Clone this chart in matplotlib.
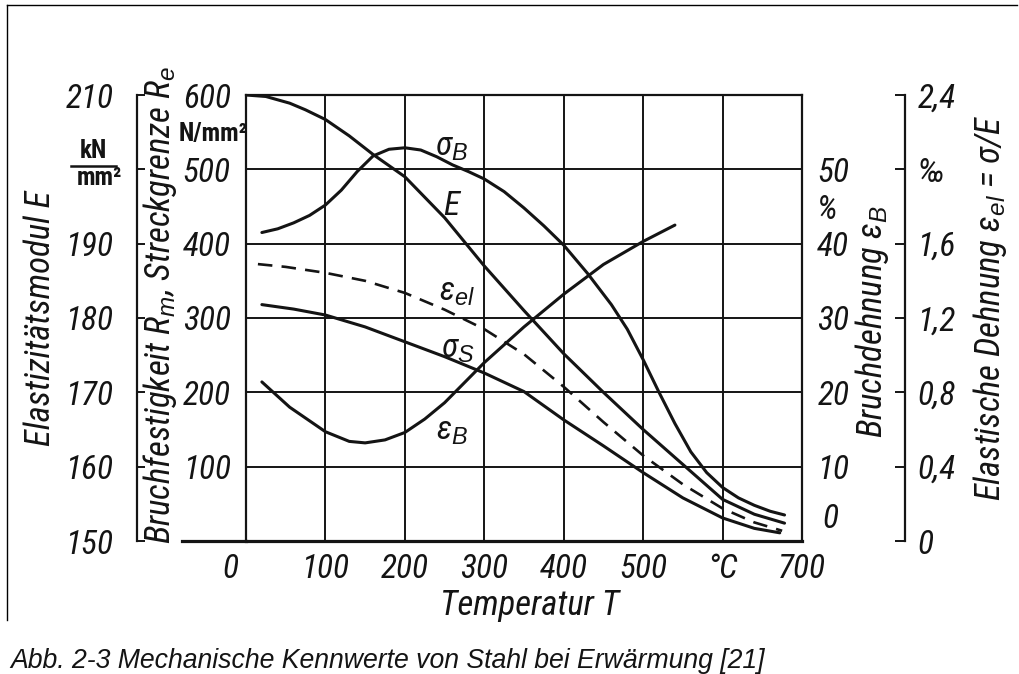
import matplotlib
matplotlib.use('Agg')
import matplotlib.pyplot as plt
from matplotlib.transforms import ScaledTranslation
from matplotlib.lines import Line2D

# ---------------- data ----------------
x_ticks = [0, 100, 200, 300, 400, 500, 600, 700]
x_ticklabels = ['0', '100', '200', '300', '400', '500', '°C', '700']

rm_ticks = [100, 200, 300, 400, 500, 600]
rm_ticklabels = ['100', '200', '300', '400', '500', '600']

e_ticks = [150, 160, 170, 180, 190, 200, 210]
e_ticklabels = ['150', '160', '170', '180', '190', '', '210']

eb_ticks = [0, 10, 20, 30, 40, 45, 50]
eb_ticklabels = ['0', '10', '20', '30', '40', '%', '50']

eel_ticks = [0, 0.4, 0.8, 1.2, 1.6, 2.0, 2.4]
eel_ticklabels = ['0', '0,4', '0,8', '1,2', '1,6', '‰', '2,4']

# Bruchfestigkeit sigma_B  (N/mm^2)
T_sigB = [20, 40, 60, 80, 100, 120, 140, 160, 180, 200, 220, 240, 260, 280, 300,
          325, 350, 375, 400, 430, 460, 480, 500, 520, 540, 560, 580, 600, 620,
          640, 660, 678]
sigB = [415, 420, 428, 438, 452, 472, 497, 518, 527, 529, 526, 517, 506, 497, 487,
        470, 448, 424, 398, 360, 318, 285, 244, 200, 158, 120, 92, 72, 58,
        48, 40, 35]

# Streckgrenze sigma_S (N/mm^2)
T_sigS = [20, 60, 100, 150, 200, 250, 300, 350, 400, 450, 500, 550, 600, 640, 672]
sigS = [318, 312, 304, 288, 268, 248, 226, 201, 163, 128, 92, 58, 31, 17, 11]

# Elastizitaetsmodul E (kN/mm^2)
T_E = [0, 25, 55, 75, 100, 130, 160, 200, 250, 300, 350, 400, 450, 500, 550,
       600, 640, 678]
E = [210, 209.8, 208.9, 208.0, 206.7, 204.5, 202.0, 199.0, 193.5, 187.0, 181.0,
     175.2, 170.0, 165.0, 160.3, 155.6, 153.6, 152.4]

# Bruchdehnung eps_B (%)
T_epsB = [20, 55, 100, 130, 150, 175, 200, 225, 250, 275, 300, 350, 400, 450,
          500, 540]
epsB = [21.4, 18.0, 14.7, 13.4, 13.2, 13.6, 14.6, 16.4, 18.6, 21.3, 24.0, 28.8,
        33.2, 37.2, 40.3, 42.5]

# Elastische Dehnung eps_el (permille)
T_epsel = [15, 50, 100, 150, 200, 250, 300, 350, 400, 450, 500, 550, 600, 640, 675]
epsel = [1.49, 1.475, 1.443, 1.40, 1.335, 1.245, 1.14, 1.005, 0.83, 0.64, 0.46,
         0.305, 0.175, 0.10, 0.055]

# ---------------- style ----------------
W, H, DPI = 1019, 674, 100
INK = '#141414'
FAM = ['Liberation Sans Narrow', 'Roboto Condensed', 'Open Sans Condensed',
       'Liberation Sans', 'DejaVu Sans']
plt.rcParams['font.family'] = FAM
plt.rcParams['font.style'] = 'italic'
plt.rcParams['mathtext.fontset'] = 'custom'
plt.rcParams['mathtext.rm'] = 'Liberation Sans:italic'
plt.rcParams['mathtext.it'] = 'Liberation Sans:italic'
plt.rcParams['mathtext.sf'] = 'Liberation Sans:italic'
plt.rcParams['mathtext.bf'] = 'Liberation Sans:italic:bold'
plt.rcParams['text.color'] = INK
TICK_FS = 24
CURVE_FS = 24
TITLE_MAX = 25


def fx(x):
    return x / W


def fy(y):
    return 1 - y / H


fig = plt.figure(figsize=(W / DPI, H / DPI), dpi=DPI)
fig.patch.set_facecolor('white')

L, R, T, B = 246, 802, 95, 541
ax = fig.add_axes([fx(L), fy(B), (R - L) / W, (B - T) / H])
ax.set_xlim(0, 700)
ax.set_ylim(0, 600)
ax.set_xticks(x_ticks)
ax.set_xticklabels(x_ticklabels, fontsize=TICK_FS)
ax.set_yticks(rm_ticks)
ax.set_yticklabels(rm_ticklabels, fontsize=TICK_FS)
ax.tick_params(axis='x', length=0, pad=9, colors=INK)
ax.tick_params(axis='y', length=0, pad=11, colors=INK)
ax.grid(True, color=INK, lw=1.4)
ax.set_axisbelow(True)
for s in ax.spines.values():
    s.set_color(INK)
    s.set_linewidth(1.6)
ax.spines['bottom'].set_linewidth(2.3)
ax.axhline(0, xmin=-0.115, xmax=0, color=INK, lw=2.3, clip_on=False)

# shift "0" on temperature axis a bit left
lab0 = ax.get_xticklabels()[0]
lab0.set_transform(lab0.get_transform() + ScaledTranslation(-0.16, 0, fig.dpi_scale_trans))

# E axis (left, offset)
axE = ax.twinx()
axE.set_ylim(150, 210)
axE.yaxis.set_ticks_position('left')
axE.yaxis.set_label_position('left')
for k, s in axE.spines.items():
    s.set_visible(k == 'left')
axE.spines['left'].set_position(('axes', (137 - L) / (R - L)))
axE.spines['left'].set_color(INK)
axE.spines['left'].set_linewidth(1.6)
axE.set_yticks(e_ticks)
axE.set_yticklabels(e_ticklabels, fontsize=TICK_FS)
axE.tick_params(axis='y', direction='in', length=6, width=1.4, pad=17, colors=INK)

# eps_B axis (right, on frame)
axB = ax.twinx()
axB.set_ylim(0, 60)
for s in axB.spines.values():
    s.set_visible(False)
axB.set_yticks(eb_ticks)
axB.set_yticklabels(eb_ticklabels, fontsize=TICK_FS)
axB.tick_params(axis='y', length=0, pad=11, colors=INK)
lb0 = axB.get_yticklabels()[0]
lb0.set_transform(lb0.get_transform() + ScaledTranslation(0.05, 0.25, fig.dpi_scale_trans))

# eps_el axis (right, offset)
axEl = ax.twinx()
axEl.set_ylim(0, 2.4)
for k, s in axEl.spines.items():
    s.set_visible(k == 'right')
axEl.spines['right'].set_position(('axes', (905 - L) / (R - L)))
axEl.spines['right'].set_color(INK)
axEl.spines['right'].set_linewidth(1.6)
axEl.set_yticks(eel_ticks)
axEl.set_yticklabels(eel_ticklabels, fontsize=TICK_FS)
axEl.tick_params(axis='y', direction='in', length=7, width=1.4, pad=9, colors=INK)

# curves
LW = 2.2
ax.plot(T_sigB, sigB, color=INK, lw=LW, solid_capstyle='round')
ax.plot(T_sigS, sigS, color=INK, lw=LW, solid_capstyle='round')
axE.plot(T_E, E, color=INK, lw=LW, solid_capstyle='round')
axB.plot(T_epsB, epsB, color=INK, lw=LW, solid_capstyle='round')
axEl.plot(T_epsel, epsel, color=INK, lw=1.9, linestyle=(0, (5.5, 3.5)))

# curve labels (placed in T / Rm coordinates)
ax.text(259, 530, 'σ$_B$', fontsize=CURVE_FS, ha='center', va='center')
ax.text(259, 451, 'E', fontsize=CURVE_FS, ha='center', va='center')
ax.text(266, 335, 'ε$_{el}$', fontsize=CURVE_FS, ha='center', va='center')
ax.text(267, 258, 'σ$_S$', fontsize=CURVE_FS, ha='center', va='center')
ax.text(259, 148, 'ε$_B$', fontsize=CURVE_FS, ha='center', va='center')

# axis titles
t_E = fig.text(fx(40), fy(318), 'Elastizitätsmodul E', rotation=90,
               ha='center', va='center', fontsize=24)
t_Rm = fig.text(fx(160), fy(305), 'Bruchfestigkeit R$_m$, Streckgrenze R$_e$',
                rotation=90, ha='center', va='center', fontsize=24)
t_eB = fig.text(fx(872), fy(322), 'Bruchdehnung ε$_B$', rotation=90,
                ha='center', va='center', fontsize=24)
t_el = fig.text(fx(990), fy(308), 'Elastische Dehnung ε$_{el}$ = σ/E', rotation=90,
                ha='center', va='center', fontsize=24)
t_T = fig.text(fx(530), fy(605), 'Temperatur T', ha='center', va='center', fontsize=24)

# units
fig.text(fx(213), fy(134), 'N/mm²', ha='center', va='center', fontsize=18,
         style='normal', weight='bold')
fig.text(fx(93), fy(151), 'kN', ha='center', va='center', fontsize=18,
         style='normal', weight='bold')
fig.add_artist(Line2D([fx(71), fx(116)], [fy(166), fy(166)], color=INK, lw=1.8,
                      transform=fig.transFigure))
fig.text(fx(99), fy(178), 'mm²', ha='center', va='center', fontsize=18,
         style='normal', weight='bold')

# caption
cap = fig.text(fx(10), fy(668), 'Abb. 2-3 Mechanische Kennwerte von Stahl bei Erwärmung [21]',
               ha='left', va='baseline', fontsize=16,
               family=['Liberation Sans', 'DejaVu Sans'], style='italic')

# frame
fig.add_artist(Line2D([fx(7), fx(7)], [fy(5), fy(620)], color='black', lw=1.0,
                      transform=fig.transFigure))
fig.add_artist(Line2D([fx(7), fx(1017)], [fy(5), fy(5)], color='black', lw=1.0,
                      transform=fig.transFigure))

# fit text lengths to the reference (titles capped in size)
fig.canvas.draw()
r = fig.canvas.get_renderer()
for t, target, dim, cap_fs in [(t_E, 305, 'h', TITLE_MAX), (t_Rm, 495, 'h', TITLE_MAX),
                               (t_eB, 263, 'h', TITLE_MAX), (t_el, 437, 'h', TITLE_MAX),
                               (t_T, 220, 'w', TITLE_MAX), (cap, 758, 'w', 40)]:
    bb = t.get_window_extent(r)
    cur = bb.height if dim == 'h' else bb.width
    if cur > 0:
        t.set_fontsize(min(cap_fs, t.get_fontsize() * target / cur))

fig.savefig('out.png', dpi=DPI, facecolor='white')
